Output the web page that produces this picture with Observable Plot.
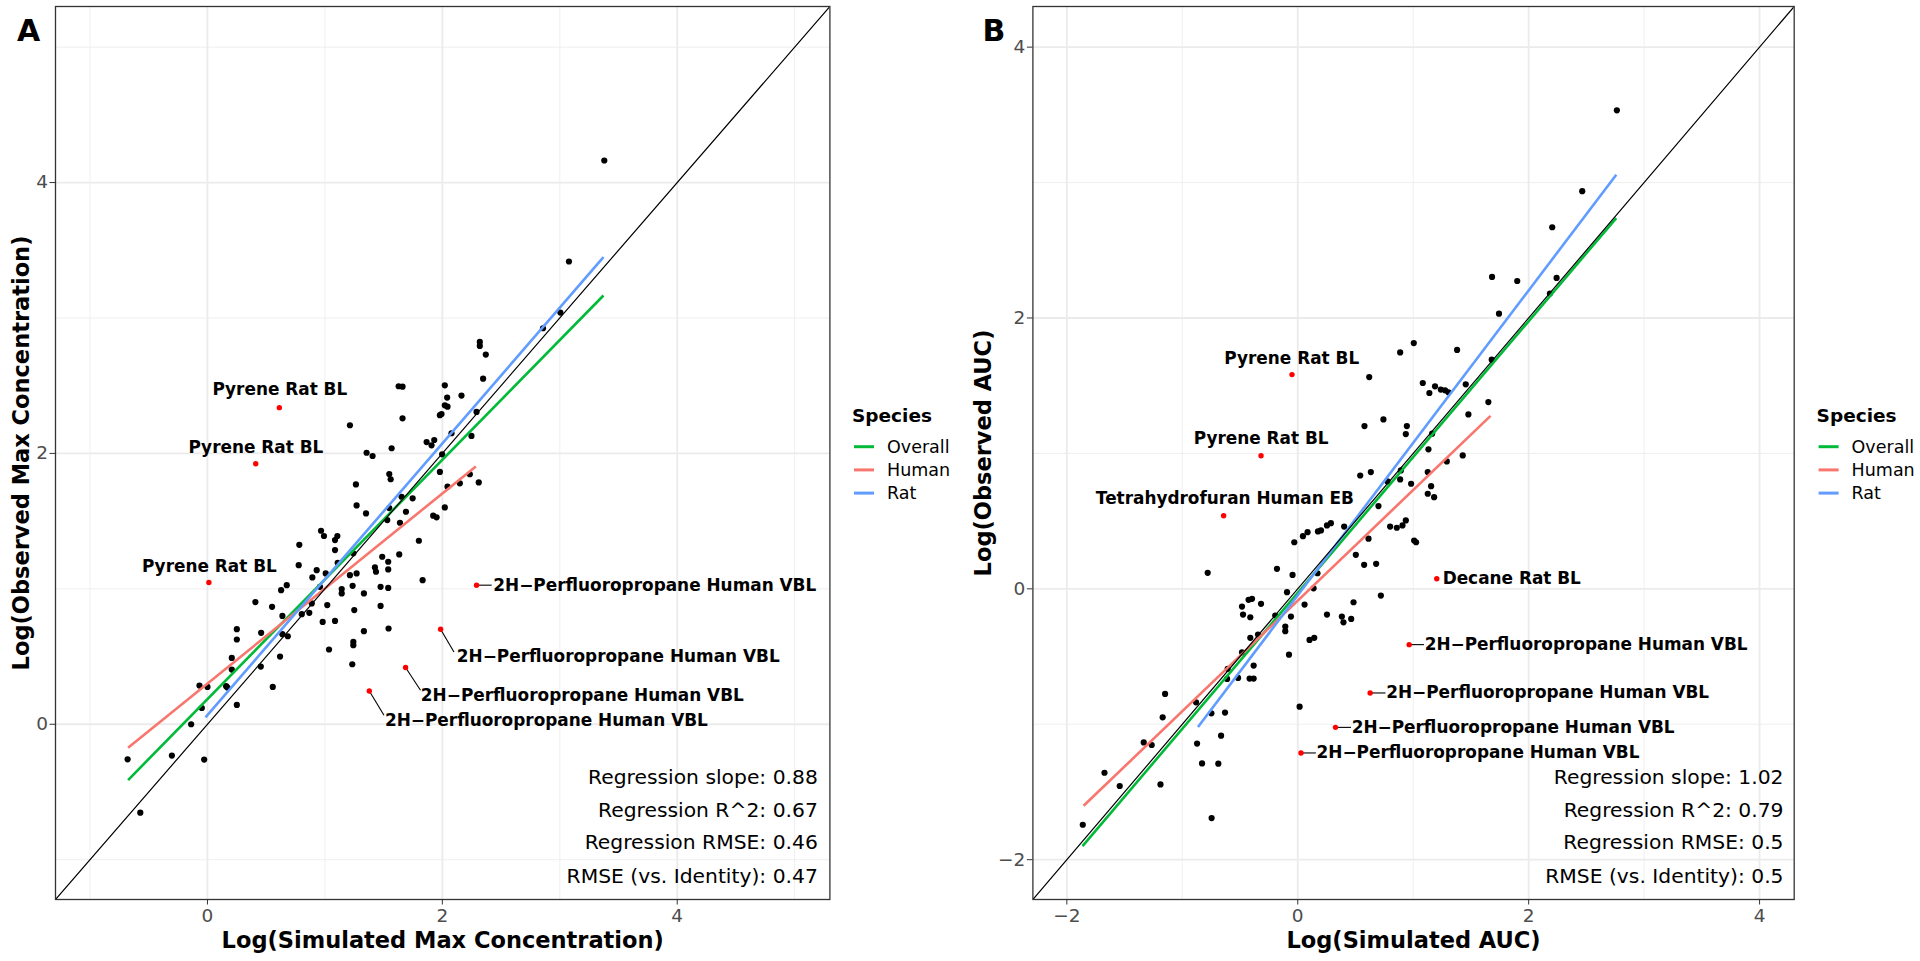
<!DOCTYPE html>
<html><head><meta charset="utf-8">
<script src="https://cdn.jsdelivr.net/npm/d3@7"></script>
<script src="https://cdn.jsdelivr.net/npm/@observablehq/plot@0.6"></script>
<style>
body{margin:0;background:#fff;}
#wrap{position:relative;width:1920px;height:961px;overflow:hidden;font-family:"DejaVu Sans",sans-serif;}
#wrap > svg{position:absolute;top:0;}
</style></head><body><div id="wrap"></div>
<script>
// ---------- shared ----------
const speciesOrder = ["Overall", "Human", "Rat"];
const speciesColors = ["#00BA38", "#F8766D", "#619CFF"];
const statLabels = ["Regression slope", "Regression R^2", "Regression RMSE", "RMSE (vs. Identity)"];

// ---------- Panel A: Max Concentration ----------
const titleXA = "Log(Simulated Max Concentration)";
const titleYA = "Log(Observed Max Concentration)";
const domainA = [-1.294, 5.300];
const ticksA = [0, 2, 4];
const gridA = [-1, 0, 1, 2, 3, 4, 5];
const statValuesA = ["0.88", "0.67", "0.46", "0.47"];
const pointsA = [
  [3.379,4.163],[3.078,3.417],[3.005,3.040],[2.857,2.924],[2.319,2.823],[2.319,2.794],[2.370,2.730],[2.347,2.552],
  [1.661,2.493],[1.628,2.496],[2.021,2.503],[2.041,2.412],[2.163,2.427],[2.021,2.355],[2.044,2.345],[1.979,2.282],
  [1.993,2.291],[1.661,2.259],[2.291,2.306],[2.078,2.149],[1.866,2.084],[1.931,2.099],[1.908,2.060],[2.248,2.129],
  [1.998,1.993],[1.979,1.863],[2.044,1.754],[2.149,1.779],[2.234,1.846],[2.310,1.786],[1.747,1.668],[1.213,2.208],
  [1.568,2.038],[1.355,2.005],[1.406,1.981],[1.548,1.848],[1.560,1.809],[1.264,1.771],[1.653,1.680],[1.270,1.616],
  [1.350,1.557],[1.548,1.596],[1.690,1.569],[1.531,1.508],[1.639,1.488],[1.922,1.540],[1.951,1.528],[2.021,1.601],
  [0.967,1.429],[0.992,1.390],[1.086,1.360],[1.106,1.390],[0.782,1.325],[1.086,1.286],[1.800,1.355],[1.242,1.262],
  [1.633,1.254],[1.488,1.237],[1.539,1.200],[0.777,1.175],[0.930,1.138],[1.109,1.192],[1.426,1.158],[1.435,1.126],
  [1.539,1.143],[1.007,1.114],[1.213,1.101],[1.270,1.114],[0.893,1.084],[1.832,1.064],[0.675,1.027],[0.627,0.990],
  [0.958,1.015],[1.236,1.022],[1.143,0.998],[1.143,0.966],[1.474,1.015],[1.539,1.007],[1.332,0.966],[0.408,0.902],
  [0.550,0.867],[0.888,0.892],[0.867,0.823],[1.020,0.880],[0.803,0.813],[0.638,0.800],[1.250,0.843],[1.474,0.874],
  [0.981,0.756],[1.086,0.763],[0.250,0.702],[0.457,0.675],[1.332,0.687],[1.542,0.707],[0.250,0.626],[0.638,0.665],
  [0.684,0.650],[1.242,0.608],[1.242,0.584],[1.035,0.552],[0.207,0.490],[0.618,0.500],[1.233,0.443],[0.207,0.404],
  [0.454,0.426],[-0.068,0.286],[0.000,0.276],[0.159,0.281],[0.170,0.271],[0.556,0.276],[-0.048,0.120],[0.250,0.143],
  [-0.139,0.000],[-0.680,-0.259],[-0.303,-0.231],[-0.028,-0.261],[-0.572,-0.653]
];
const redA = [[0.612,2.338],[0.411,1.924],[0.012,1.047],[2.291,1.027],[1.985,0.702],[1.687,0.419],[1.378,0.246]];
const labelTextA = ["Pyrene Rat BL","Pyrene Rat BL","Pyrene Rat BL",
  "2H\u2212Perfluoropropane Human VBL","2H\u2212Perfluoropropane Human VBL","2H\u2212Perfluoropropane Human VBL","2H\u2212Perfluoropropane Human VBL"];
const labelPosA = [[0.616,2.469],[0.412,2.040],[0.016,1.168],[2.434,1.027],[2.123,0.497],[1.817,0.214],[1.511,0.030]];
const labelAnchorA = ["middle","middle","middle","start","start","start","start"];
const segEndA = [null,null,null,[2.420,1.027],[2.099,0.534],[1.814,0.251],[1.503,0.067]];
const fitSpeciesA = ["Overall","Human","Rat"];
const fitStartA = [[-0.676,-0.412],[-0.676,-0.174],[-0.017,0.051]];
const fitEndA = [[3.372,3.166],[2.285,1.904],[3.372,3.449]];

// ---------- Panel B: AUC ----------
const titleXB = "Log(Simulated AUC)";
const titleYB = "Log(Observed AUC)";
const domainB = [-2.294, 4.300];
const ticksB = [-2, 0, 2, 4];
const gridB = [-2, -1, 0, 1, 2, 3, 4];
const statValuesB = ["1.02", "0.79", "0.5", "0.5"];
const pointsB = [
  [2.764,3.533],[2.464,2.936],[2.204,2.670],[1.683,2.303],[1.901,2.273],[2.242,2.296],[2.184,2.180],[1.743,2.032],
  [0.887,1.746],[1.005,1.815],[1.380,1.764],[1.680,1.692],
  [0.619,1.564],[1.083,1.520],[1.189,1.495],[1.140,1.446],[1.239,1.471],[1.276,1.466],[1.305,1.451],[1.455,1.510],
  [1.651,1.379],[1.478,1.288],[0.742,1.251],[0.578,1.202],[0.945,1.202],[0.936,1.143],[1.164,1.146],[1.132,1.030],
  [1.429,0.985],[1.291,0.941],[0.541,0.837],[0.633,0.862],[0.893,0.874],[0.887,0.808],[0.777,0.793],[1.126,0.862],
  [0.982,0.776],[1.155,0.758],[1.126,0.702],[1.181,0.677],[0.699,0.611],[0.287,0.485],[0.253,0.468],[0.402,0.460],
  [0.175,0.424],[0.201,0.431],[0.085,0.418],[0.045,0.389],[-0.030,0.344],[0.800,0.460],[0.858,0.451],[0.907,0.468],
  [0.936,0.505],[0.613,0.370],[1.008,0.357],[1.025,0.344],[0.503,0.251],[0.575,0.177],[0.679,0.185],[-0.180,0.148],
  [-0.045,0.103],[0.171,0.115],[-0.780,0.118],[0.137,0.004],[-0.093,-0.025],[0.720,-0.050],[0.483,-0.099],[0.059,-0.116],
  [-0.396,-0.074],[-0.426,-0.081],[-0.483,-0.131],[-0.318,-0.111],[-0.474,-0.190],[-0.411,-0.210],[-0.195,-0.197],[-0.059,-0.205],
  [0.253,-0.190],[0.382,-0.205],[0.396,-0.247],[0.463,-0.222],[-0.108,-0.279],
  [-0.108,-0.313],[0.102,-0.377],[0.143,-0.362],[-0.411,-0.362],[-0.344,-0.338],[-0.076,-0.486],[-0.483,-0.469],[-0.382,-0.567],
  [-0.607,-0.591],[-0.517,-0.658],[-0.417,-0.663],[-0.382,-0.663],[-0.612,-0.665],[-0.881,-0.838],[-1.149,-0.776],[-1.170,-0.949],
  [-0.748,-0.919],[-0.630,-0.914],[0.016,-0.870],[-0.664,-1.084],[-0.872,-1.143],[-1.334,-1.134],[-1.265,-1.153],[-0.829,-1.289],
  [-0.688,-1.291],[-1.674,-1.358],[-1.542,-1.456],[-1.189,-1.444],[-0.746,-1.693],[-1.862,-1.742]
];
const redB = [[-0.050,1.582],[-0.318,0.983],[-0.642,0.540],[1.204,0.074],[0.965,-0.412],[0.627,-0.769],[0.327,-1.023],[0.028,-1.212]];
const labelTextB = ["Pyrene Rat BL","Pyrene Rat BL","Tetrahydrofuran Human EB","Decane Rat BL",
  "2H\u2212Perfluoropropane Human VBL","2H\u2212Perfluoropropane Human VBL","2H\u2212Perfluoropropane Human VBL","2H\u2212Perfluoropropane Human VBL"];
const labelPosB = [[-0.052,1.700],[-0.317,1.109],[-0.631,0.665],[1.255,0.074],[1.099,-0.412],[0.766,-0.769],[0.467,-1.023],[0.163,-1.212]];
const labelAnchorB = ["middle","middle","middle","start","start","start","start","start"];
const segEndB = [null,null,null,null,[1.093,-0.412],[0.760,-0.769],[0.461,-1.023],[0.157,-1.212]];
const fitSpeciesB = ["Overall","Human","Rat"];
const fitStartB = [[-1.864,-1.900],[-1.855,-1.602],[-0.864,-1.020]];
const fitEndB = [[2.759,2.738],[1.670,1.277],[2.759,3.058]];

// ---------- builder ----------
const tickFmt = d => (d < 0 ? "\u2212" + Math.abs(d) : String(d));
function panel(o) {
  const pts = o.points.map(([x, y]) => ({x, y}));
  const reds = o.red.map(([x, y], i) => ({x, y, text: o.labelText[i], lx: o.labelPos[i][0], ly: o.labelPos[i][1], anchor: o.labelAnchor[i], seg: o.segEnd[i]}));
  const segs = reds.filter(d => d.seg).map(d => ({x1: d.x, y1: d.y, x2: d.seg[0], y2: d.seg[1]}));
  const fits = o.fitSpecies.map((s, i) => ({species: s, x1: o.fitStart[i][0], y1: o.fitStart[i][1], x2: o.fitEnd[i][0], y2: o.fitEnd[i][1]}));
  const ident = [o.domain[0] - 0.2, o.domain[1] + 0.2].map(v => ({x: v, y: v}));
  const major = o.grid.filter(v => o.ticks.includes(v));
  const minor = o.grid.filter(v => !o.ticks.includes(v));
  const labelMarks = ["middle", "start"].map(a => Plot.text(reds.filter(d => d.anchor === a), {
    x: "lx", y: "ly", text: "text", textAnchor: a, lineAnchor: "middle", fontWeight: "bold", fontSize: 16.9, fill: "black"
  }));
  const statMarks = statLabels.map((s, i) => Plot.text([`${s}: ${o.statValues[i]}`], {
    frameAnchor: "bottom-right", textAnchor: "end", lineAnchor: "middle", fontSize: 20.3, fill: "black",
    dx: o.statDx, dy: [-122.3, -89.3, -56.6, -23.3][i]
  }));
  return Plot.plot({
    width: o.width, height: 961,
    marginLeft: o.marginLeft, marginRight: o.marginRight, marginTop: 6, marginBottom: 62,
    x: {domain: o.domain}, y: {domain: o.domain},
    color: {domain: speciesOrder, range: speciesColors},
    style: {fontFamily: "DejaVu Sans", fontSize: "18.5px", background: "white", overflow: "visible"},
    marks: [
      Plot.gridX(minor, {stroke: "#EDEDED", strokeOpacity: 1, strokeWidth: 0.9}),
      Plot.gridY(minor, {stroke: "#EDEDED", strokeOpacity: 1, strokeWidth: 0.9}),
      Plot.gridX(major, {stroke: "#EBEBEB", strokeOpacity: 1, strokeWidth: 1.8}),
      Plot.gridY(major, {stroke: "#EBEBEB", strokeOpacity: 1, strokeWidth: 1.8}),
      Plot.axisX(o.ticks, {tickSize: 5.5, tickPadding: 3.5, tickFormat: tickFmt, stroke: "#333333", fill: "#4D4D4D", fontSize: 18.5, label: null}),
      Plot.axisY(o.ticks, {tickSize: 5.5, tickPadding: 2, tickFormat: tickFmt, stroke: "#333333", fill: "#4D4D4D", fontSize: 18.5, label: null}),
      Plot.dot(pts, {x: "x", y: "y", r: 3.1, fill: "black"}),
      Plot.link(fits, {x1: "x1", y1: "y1", x2: "x2", y2: "y2", stroke: "species", strokeWidth: 2.6}),
      Plot.line(ident, {x: "x", y: "y", stroke: "black", strokeWidth: 1.2, clip: true}),
      Plot.link(segs, {x1: "x1", y1: "y1", x2: "x2", y2: "y2", stroke: "black", strokeWidth: 1.1}),
      Plot.dot(reds, {x: "x", y: "y", r: 2.7, fill: "red"}),
      ...labelMarks,
      ...statMarks,
      Plot.frame({stroke: "#333333", strokeWidth: 1.3}),
      Plot.text([o.titleX], {frameAnchor: "bottom", textAnchor: "middle", lineAnchor: "middle", dy: 41, fontWeight: "bold", fontSize: 22.5, fill: "black"}),
      Plot.text([o.titleY], {frameAnchor: "left", textAnchor: "middle", lineAnchor: "middle", rotate: -90, dx: o.titleYdx, fontWeight: "bold", fontSize: 22.5, fill: "black"}),
      Plot.text([o.letter], {frameAnchor: "top-left", textAnchor: "start", lineAnchor: "top", dx: o.letterDx, dy: 13.5, fontWeight: "bold", fontSize: 30, fill: "black"})
    ]
  });
}

const wrap = document.getElementById("wrap");
const svgA = panel({
  width: 960, marginLeft: 55, marginRight: 130.6, domain: domainA, ticks: ticksA, grid: gridA,
  points: pointsA, red: redA, labelText: labelTextA, labelPos: labelPosA, labelAnchor: labelAnchorA, segEnd: segEndA,
  fitSpecies: fitSpeciesA, fitStart: fitStartA, fitEnd: fitEndA, statValues: statValuesA, statDx: -12.1,
  titleX: titleXA, titleY: titleYA, titleYdx: -34, letter: "A", letterDx: -38.5
});
svgA.style.left = "0px";
wrap.appendChild(svgA);
const svgB = panel({
  width: 960, marginLeft: 72.4, marginRight: 126.3, domain: domainB, ticks: ticksB, grid: gridB,
  points: pointsB, red: redB, labelText: labelTextB, labelPos: labelPosB, labelAnchor: labelAnchorB, segEnd: segEndB,
  fitSpecies: fitSpeciesB, fitStart: fitStartB, fitEnd: fitEndB, statValues: statValuesB, statDx: -10.7,
  titleX: titleXB, titleY: titleYB, titleYdx: -49.4, letter: "B", letterDx: -50.4
});
svgB.style.left = "960px";
wrap.appendChild(svgB);

// ---------- legends ----------
const overlay = d3.select(wrap).append("svg")
  .attr("width", 1920).attr("height", 961)
  .style("position", "absolute").style("left", "0px").style("top", "0px")
  .style("font-family", "DejaVu Sans");
[852, 1816.6].forEach(x0 => {
  const g = overlay.append("g");
  g.append("text").attr("x", x0).attr("y", 421.7).attr("font-weight", "bold").attr("font-size", 18.5).attr("fill", "black").text("Species");
  speciesOrder.forEach((s, i) => {
    const yc = 446.7 + i * 23.2;
    g.append("line").attr("x1", x0 + 2).attr("x2", x0 + 22).attr("y1", yc).attr("y2", yc)
      .attr("stroke", speciesColors[i]).attr("stroke-width", 3);
    g.append("text").attr("x", x0 + 35).attr("y", yc).attr("dy", "0.35em").attr("font-size", 17.5).attr("fill", "black").text(s);
  });
});
</script></body></html>
